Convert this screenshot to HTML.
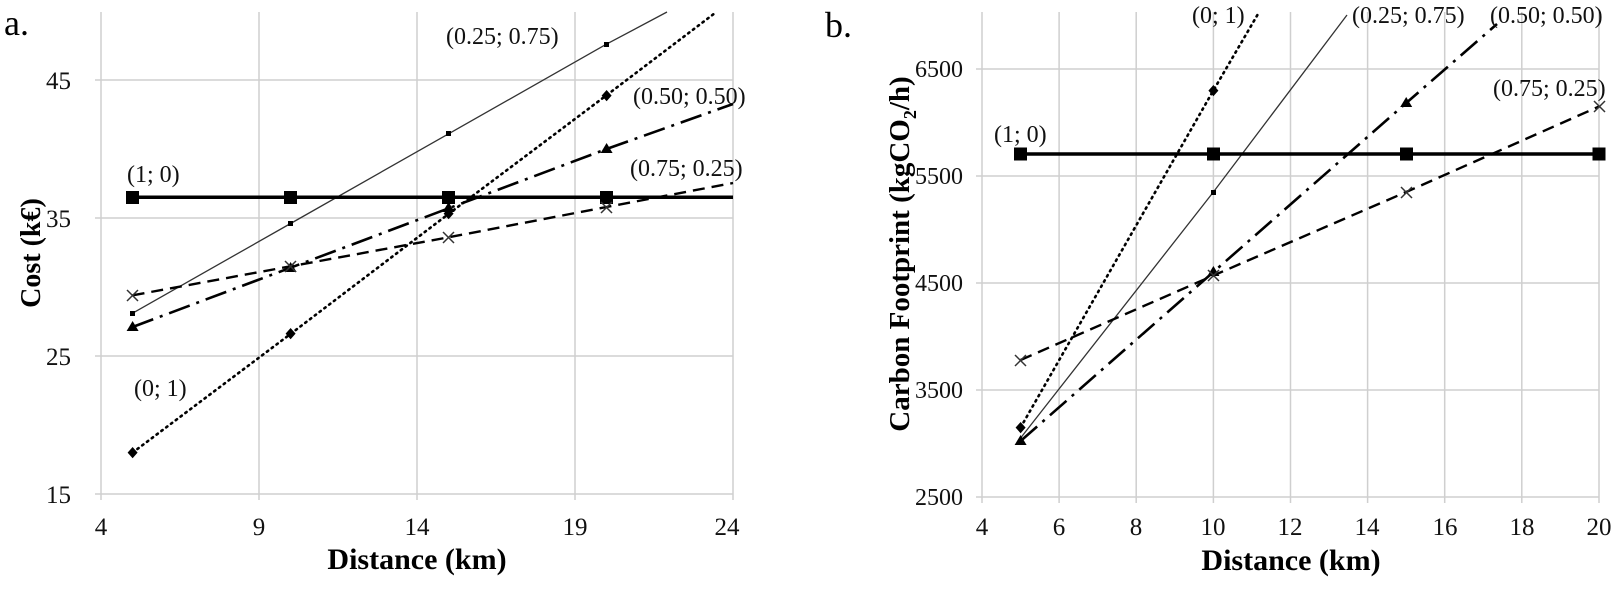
<!DOCTYPE html>
<html><head><meta charset="utf-8"><style>
html,body{margin:0;padding:0;background:#fff;}
svg{display:block;font-family:"Liberation Serif",serif;}
</style></head><body>
<svg width="1619" height="591" viewBox="0 0 1619 591" xmlns="http://www.w3.org/2000/svg">
<rect width="1619" height="591" fill="#fff"/>
<!-- LEFT CHART -->
<g stroke="#cfcfcf" stroke-width="1.5" fill="none">
<line x1="259" y1="12" x2="259" y2="500"/><line x1="417" y1="12" x2="417" y2="500"/><line x1="575" y1="12" x2="575" y2="500"/><line x1="733" y1="12" x2="733" y2="500"/>
<line x1="101" y1="356" x2="733" y2="356"/><line x1="101" y1="218" x2="733" y2="218"/><line x1="101" y1="80" x2="733" y2="80"/>
<line x1="101" y1="12" x2="101" y2="500"/><line x1="95" y1="494" x2="733" y2="494"/>
<line x1="95" y1="356" x2="101" y2="356"/><line x1="95" y1="218" x2="101" y2="218"/><line x1="95" y1="80" x2="101" y2="80"/>
</g>
<g font-size="25" fill="#111" text-anchor="end">
<text x="71" y="503">15</text><text x="71" y="365">25</text><text x="71" y="227">35</text><text x="71" y="89">45</text>
</g>
<g font-size="25" fill="#111" text-anchor="middle">
<text x="101" y="535">4</text><text x="259" y="535">9</text><text x="417" y="535">14</text><text x="575" y="535">19</text><text x="727" y="535">24</text>
</g>
<text x="417" y="569" font-size="30" font-weight="bold" text-anchor="middle">Distance (km)</text>
<text transform="translate(40,253) rotate(-90)" font-size="28" font-weight="bold" text-anchor="middle">Cost (k€)</text>
<text x="4" y="35" font-size="36">a.</text>
<!-- series left -->
<polyline points="132.6,313.2 290.6,223.5 448.6,133.8 606.6,44.1 667,12" fill="none" stroke="#333" stroke-width="1.3"/>
<polyline points="132.6,452.6 290.6,333.9 448.6,213.9 606.6,95.2 715,13" fill="none" stroke="#000" stroke-width="2.6" stroke-dasharray="1.5,4.5" stroke-linecap="round"/>
<polyline points="132.6,327 290.6,267.7 448.6,208.3 606.6,149 733,104" fill="none" stroke="#000" stroke-width="2.6" stroke-dasharray="22,7,3,7"/>
<polyline points="132.6,295.3 290.6,266.3 448.6,237.3 606.6,207 733,183" fill="none" stroke="#000" stroke-width="2.4" stroke-dasharray="12,7"/>
<line x1="132.6" y1="197.3" x2="733" y2="197.3" stroke="#000" stroke-width="3.5"/>
<g fill="#000">
<rect x="126" y="191" width="13" height="13"/><rect x="284" y="191" width="13" height="13"/><rect x="442" y="191" width="13" height="13"/><rect x="600" y="191" width="13" height="13"/>
<rect x="130" y="311" width="5" height="5"/><rect x="288" y="221" width="5" height="5"/><rect x="446" y="131" width="5" height="5"/><rect x="604" y="42" width="5" height="5"/>
<path d="M132.6 447l5 5.6-5 5.6-5-5.6z"/><path d="M290.6 328l5 5.6-5 5.6-5-5.6z"/><path d="M448.6 208l5 5.6-5 5.6-5-5.6z"/><path d="M606.6 90l5 5.6-5 5.6-5-5.6z"/>
<path d="M132.6 321l6 10h-12z"/><path d="M290.6 262l6 10h-12z"/><path d="M448.6 202l6 10h-12z"/><path d="M606.6 143l6 10h-12z"/>
</g>
<g stroke="#333" stroke-width="1.5">
<path d="M127 290l11 11M138 290l-11 11"/><path d="M285 261l11 11M296 261l-11 11"/><path d="M443 232l11 11M454 232l-11 11"/><path d="M601 202l11 11M612 202l-11 11"/>
</g>
<g font-size="24" fill="#111">
<text x="446" y="44">(0.25; 0.75)</text>
<text x="633" y="104">(0.50; 0.50)</text>
<text x="630" y="176">(0.75; 0.25)</text>
<text x="127" y="182">(1; 0)</text>
<text x="134" y="396">(0; 1)</text>
</g>
<!-- RIGHT CHART -->
<g stroke="#cfcfcf" stroke-width="1.5" fill="none">
<line x1="1059.1" y1="12" x2="1059.1" y2="503"/><line x1="1136.2" y1="12" x2="1136.2" y2="503"/><line x1="1213.4" y1="12" x2="1213.4" y2="503"/><line x1="1290.5" y1="12" x2="1290.5" y2="503"/><line x1="1367.6" y1="12" x2="1367.6" y2="503"/><line x1="1444.7" y1="12" x2="1444.7" y2="503"/><line x1="1521.8" y1="12" x2="1521.8" y2="503"/><line x1="1599" y1="12" x2="1599" y2="503"/>
<line x1="982" y1="390" x2="1599" y2="390"/><line x1="982" y1="283" x2="1599" y2="283"/><line x1="982" y1="176" x2="1599" y2="176"/><line x1="982" y1="69" x2="1599" y2="69"/>
<line x1="982" y1="12" x2="982" y2="503"/><line x1="976" y1="497" x2="1599" y2="497"/>
<line x1="976" y1="390" x2="982" y2="390"/><line x1="976" y1="283" x2="982" y2="283"/><line x1="976" y1="176" x2="982" y2="176"/><line x1="976" y1="69" x2="982" y2="69"/>
</g>
<g font-size="24" fill="#111" text-anchor="end">
<text x="963" y="505">2500</text><text x="963" y="398">3500</text><text x="963" y="291">4500</text><text x="963" y="184">5500</text><text x="963" y="77">6500</text>
</g>
<g font-size="25" fill="#111" text-anchor="middle">
<text x="982" y="535">4</text><text x="1059" y="535">6</text><text x="1136" y="535">8</text><text x="1213" y="535">10</text><text x="1290" y="535">12</text><text x="1367" y="535">14</text><text x="1445" y="535">16</text><text x="1522" y="535">18</text><text x="1599" y="535">20</text>
</g>
<text x="1291" y="570" font-size="30" font-weight="bold" text-anchor="middle">Distance (km)</text>
<text transform="translate(909,254) rotate(-90)" font-size="29" font-weight="bold" text-anchor="middle">Carbon Footprint (kgCO<tspan font-size="18" dy="7">2</tspan><tspan dy="-7">/h)</tspan></text>
<text x="825" y="37" font-size="36">b.</text>
<polyline points="1020.6,438 1213.4,192 1347,15" fill="none" stroke="#333" stroke-width="1.3"/>
<polyline points="1020.6,427.5 1213.4,90.4 1258,14" fill="none" stroke="#000" stroke-width="2.6" stroke-dasharray="1.5,4.5" stroke-linecap="round"/>
<polyline points="1020.6,441 1213.4,272 1406.2,103 1497,24" fill="none" stroke="#000" stroke-width="2.6" stroke-dasharray="22,7,3,7"/>
<polyline points="1020.6,360 1213.4,275.5 1406.2,192 1599,106.5" fill="none" stroke="#000" stroke-width="2.4" stroke-dasharray="12,7"/>
<line x1="1020.6" y1="154" x2="1599" y2="154" stroke="#000" stroke-width="3.5"/>
<g fill="#000">
<rect x="1014" y="147.5" width="13" height="13"/><rect x="1207" y="147.5" width="13" height="13"/><rect x="1400" y="147.5" width="13" height="13"/><rect x="1592.5" y="147.5" width="13" height="13"/>
<rect x="1211" y="190" width="5" height="5"/>
<path d="M1020.6 422l5 5.6-5 5.6-5-5.6z"/><path d="M1213.4 85l5 5.6-5 5.6-5-5.6z"/>
<path d="M1020.6 435l6 10h-12z"/><path d="M1213.4 266l6 10h-12z"/><path d="M1406.2 97l6 10h-12z"/>
</g>
<g stroke="#333" stroke-width="1.5">
<path d="M1015 355l11 11M1026 355l-11 11"/><path d="M1208 270l11 11M1219 270l-11 11"/><path d="M1401 187l11 11M1412 187l-11 11"/><path d="M1594 101l11 11M1605 101l-11 11"/>
</g>
<g font-size="24" fill="#111">
<text x="1192" y="23">(0; 1)</text>
<text x="1352" y="23">(0.25; 0.75)</text>
<text x="1490" y="23">(0.50; 0.50)</text>
<text x="1493" y="96">(0.75; 0.25)</text>
<text x="994" y="142">(1; 0)</text>
</g>
</svg>
</body></html>
